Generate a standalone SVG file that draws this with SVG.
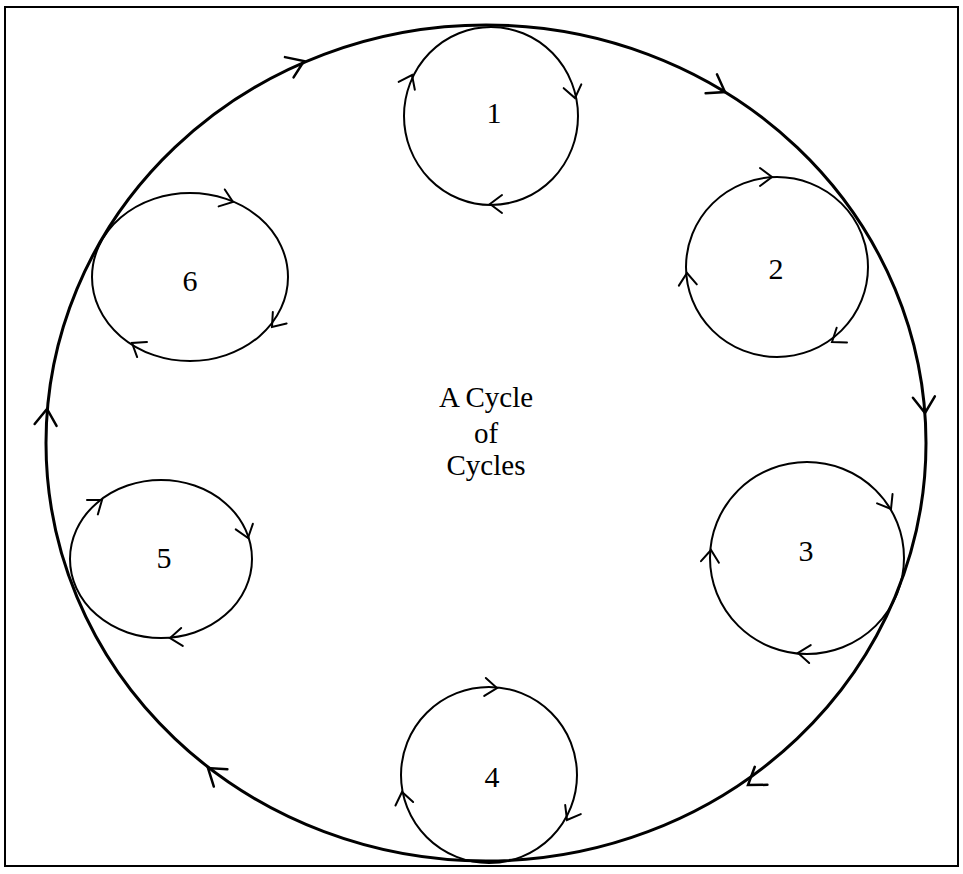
<svg xmlns="http://www.w3.org/2000/svg" width="963" height="874" viewBox="0 0 963 874">
<style>
.frame{fill:none;stroke:#000;stroke-width:2}
.big{fill:none;stroke:#000;stroke-width:3}
.small{fill:none;stroke:#000;stroke-width:2}
.ah{fill:none;stroke:#000;stroke-width:2;stroke-linecap:round;stroke-linejoin:miter}
.ahb{fill:none;stroke:#000;stroke-width:2.5;stroke-linecap:round}
.lbl{font-family:"Liberation Serif","Times New Roman",serif;font-size:29px;fill:#000;text-anchor:middle}
.num{font-family:"Liberation Serif","Times New Roman",serif;font-size:30px;fill:#000;text-anchor:middle}
</style>
<defs>
<path id="chev" class="ah" d="M -12,-9 L 0,0 L -12,9"/>
<path id="chevB" class="ahb" d="M -16,-11 L 0,0 L -16,11"/>
</defs>
<rect class="frame" x="5" y="7" width="953" height="859"/>
<g id="connectors">
<ellipse id="outer-cycle" class="big" cx="486" cy="443" rx="440" ry="418"/>
<use href="#chevB" transform="translate(304,61) rotate(-23)"/>
<use href="#chevB" transform="translate(725,92) rotate(31)"/>
<use href="#chevB" transform="translate(925,413) rotate(86)"/>
<use href="#chevB" transform="translate(748,785) rotate(145)"/>
<use href="#chevB" transform="translate(208,768) rotate(218)"/>
<use href="#chevB" transform="translate(47,409) rotate(-85)"/>
</g>
<g id="cycle1">
<ellipse class="small" cx="491" cy="116" rx="87" ry="89"/>
<use href="#chev" transform="translate(412,75) rotate(-64)"/>
<use href="#chev" transform="translate(575,98) rotate(78)"/>
<use href="#chev" transform="translate(490,204) rotate(180)"/>
<text class="num" x="494" y="123">1</text>
</g>
<g id="cycle2">
<ellipse class="small" cx="777" cy="267" rx="91" ry="90"/>
<use href="#chev" transform="translate(772,177) rotate(0)"/>
<use href="#chev" transform="translate(687,273) rotate(-94)"/>
<use href="#chev" transform="translate(832,342) rotate(145)"/>
<text class="num" x="776" y="279">2</text>
</g>
<g id="cycle3">
<ellipse class="small" cx="807" cy="558" rx="97" ry="96"/>
<use href="#chev" transform="translate(891,509) rotate(59)"/>
<use href="#chev" transform="translate(711,550) rotate(-85)"/>
<use href="#chev" transform="translate(798,653) rotate(185)"/>
<text class="num" x="806" y="561">3</text>
</g>
<g id="cycle4">
<ellipse class="small" cx="489" cy="775" rx="88" ry="88"/>
<use href="#chev" transform="translate(497,688) rotate(5)"/>
<use href="#chev" transform="translate(402,792) rotate(-101)"/>
<use href="#chev" transform="translate(567,820) rotate(120)"/>
<text class="num" x="492" y="787">4</text>
</g>
<g id="cycle5">
<ellipse class="small" cx="161" cy="559" rx="91" ry="79"/>
<use href="#chev" transform="translate(102,500) rotate(-37)"/>
<use href="#chev" transform="translate(248,538) rotate(72)"/>
<use href="#chev" transform="translate(170,638) rotate(175)"/>
<text class="num" x="164" y="568">5</text>
</g>
<g id="cycle6">
<ellipse class="small" cx="190" cy="277" rx="98" ry="84"/>
<use href="#chev" transform="translate(233,202) rotate(20)"/>
<use href="#chev" transform="translate(272,327) rotate(130)"/>
<use href="#chev" transform="translate(132,343) rotate(213)"/>
<text class="num" x="190" y="291">6</text>
</g>
<g id="title">
<text class="lbl" x="486" y="407">A Cycle</text>
<text class="lbl" x="486" y="443">of</text>
<text class="lbl" x="486" y="475">Cycles</text>
</g>
</svg>
